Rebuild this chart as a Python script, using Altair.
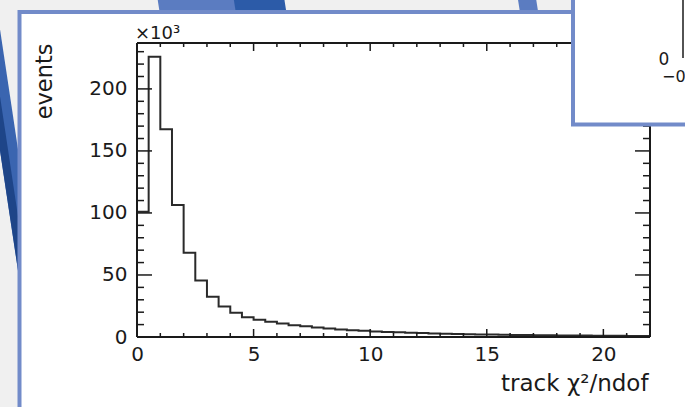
import altair as alt
import numpy as np
import pandas as pd

# ---------------- data ----------------
# histogram of track chi2/ndof, bins of width 0.5 from 0 to 22, counts in units of 10^3
bin_lo = list(np.arange(0.0, 22.0, 0.5))
counts = [101, 226, 167.5, 106.5, 68, 45.5, 32.5, 24.5, 19.5, 16.0,
          14.0, 12.2, 10.8, 9.5, 8.6, 7.6, 6.8, 6.1, 5.5, 5.0,
          4.5, 4.1, 3.8, 3.5, 3.2, 2.9, 2.7, 2.5, 2.3, 2.1,
          2.0, 1.8, 1.7, 1.6, 1.5, 1.4, 1.3, 1.2, 1.15, 1.1,
          1.0, 0.95, 0.9, 0.85]
x_range = [0.0, 22.0]
y_range = [0.0, 237.0]
x_major = [0, 5, 10, 15, 20]
x_minor = [1, 2, 3, 4, 6, 7, 8, 9, 11, 12, 13, 14, 16, 17, 18, 19, 21]
y_major = [0, 50, 100, 150, 200]
y_minor = [10, 20, 30, 40, 60, 70, 80, 90, 110, 120, 130, 140,
           160, 170, 180, 190, 210, 220, 230]

# outline of the histogram (step line)
hx = [x_range[0]] + bin_lo + [x_range[1]]
hy = [0.0] + counts + [counts[-1]]
hist_df = pd.DataFrame({"x": hx, "y": hy, "i": range(len(hx))})

W, H = 513, 294
FONT = "DejaVu Sans"
INK = "#1a1a1a"
BLUE = "#728bc9"

xscale = alt.Scale(domain=x_range, nice=False, zero=False)
yscale = alt.Scale(domain=y_range, nice=False, zero=False)

xaxis = alt.Axis(title="track χ²/ndof", values=x_major, format="d", domain=False,
                 ticks=False, tickSize=0, grid=False, labelFont=FONT, labelFontSize=20,
                 labelColor=INK, labelPadding=7, labelFlush=False, labelOverlap=False,
                 titleFont=FONT, titleFontSize=23, titleFontWeight="normal",
                 titleColor=INK, titleX=511, titleY=53, titleAlign="right",
                 titleBaseline="alphabetic", zindex=1)
yaxis = alt.Axis(title="events", values=y_major, format="d", domain=False,
                 ticks=False, tickSize=0, grid=False, labelFont=FONT, labelFontSize=20,
                 labelColor=INK, labelPadding=10, labelFlush=False, labelOverlap=False,
                 titleFont=FONT, titleFontSize=22.5, titleFontWeight="normal",
                 titleColor=INK, titleAngle=270, titleX=-93, titleY=0,
                 titleAlign="right", titleBaseline="middle", zindex=1)

one = pd.DataFrame({"a": [0]})

# ---------------- slide decoration ----------------
def band(x1, y1, x2, y2, w, color):
    return alt.Chart(one).mark_rule(color=color, strokeWidth=w).encode(
        x=alt.value(x1), y=alt.value(y1), x2=alt.value(x2), y2=alt.value(y2))

# coordinates relative to plot origin (137, 43)
stripes = [
    band(-150.5, -43, -98, 307, 18, "#3a65b0"),
    band(-155.5, -43, -103, 307, 8, "#1e4588"),
    band(55, -70, 72, 40, 76, "#5b7cc1"),
    band(118, -70, 135, 40, 50, "#2c5ba8"),
    band(386, -70, 403, 40, 18, "#5b7cc1"),
]

panel = alt.Chart(one).mark_rect(fill="white", stroke=BLUE, strokeWidth=4).encode(
    x=alt.value(-117.5), x2=alt.value(700), y=alt.value(-31), y2=alt.value(420))

# ---------------- histogram ----------------
hist = alt.Chart(hist_df).mark_line(interpolate="step-after", color="#2a2a2a",
                                    strokeWidth=2).encode(
    x=alt.X("x:Q", scale=xscale, axis=xaxis),
    y=alt.Y("y:Q", scale=yscale, axis=yaxis),
    order=alt.Order("i:Q"))

# ---------------- frame and ticks ----------------
def xticks(vals, y1, y2):
    return alt.Chart(pd.DataFrame({"v": vals})).mark_rule(color=INK, strokeWidth=1.5).encode(
        x=alt.X("v:Q", scale=xscale, axis=xaxis), y=alt.value(y1), y2=alt.value(y2))

def yticks(vals, x1, x2):
    return alt.Chart(pd.DataFrame({"v": vals})).mark_rule(color=INK, strokeWidth=1.5).encode(
        y=alt.Y("v:Q", scale=yscale, axis=yaxis), x=alt.value(x1), x2=alt.value(x2))

ticks = [
    xticks(x_major, H, H - 8), xticks(x_minor, H, H - 4),
    xticks(x_major, 0, 8), xticks(x_minor, 0, 4),
    yticks(y_major, 0, 15), yticks(y_minor, 0, 7),
    yticks(y_major, W, W - 15), yticks(y_minor, W, W - 7),
]

frame = [
    alt.Chart(one).mark_rule(color=INK, strokeWidth=2).encode(
        x=alt.value(0), x2=alt.value(W), y=alt.value(H), y2=alt.value(H)),
    alt.Chart(one).mark_rule(color=INK, strokeWidth=2).encode(
        x=alt.value(0), x2=alt.value(W), y=alt.value(0), y2=alt.value(0)),
    alt.Chart(one).mark_rule(color=INK, strokeWidth=2).encode(
        x=alt.value(0), x2=alt.value(0), y=alt.value(0), y2=alt.value(H)),
    alt.Chart(one).mark_rule(color=INK, strokeWidth=2).encode(
        x=alt.value(W), x2=alt.value(W), y=alt.value(0), y2=alt.value(H)),
]

exponent = alt.Chart(one).mark_text(font=FONT, fontSize=18, color=INK, align="left",
                                    baseline="alphabetic").encode(
    x=alt.value(-2), y=alt.value(-4), text=alt.value("×10³"))

# ---------------- neighbouring inset panel (top right) ----------------
inset = alt.Chart(one).mark_rect(fill="white", stroke=BLUE, strokeWidth=4).encode(
    x=alt.value(436), x2=alt.value(800), y=alt.value(-80), y2=alt.value(81.5))
inset_line = alt.Chart(one).mark_rule(color=INK, strokeWidth=1.5).encode(
    x=alt.value(546), x2=alt.value(546), y=alt.value(-43), y2=alt.value(15))
inset_t1 = alt.Chart(one).mark_text(font=FONT, fontSize=17, color=INK, align="center",
                                    baseline="alphabetic").encode(
    x=alt.value(527), y=alt.value(22), text=alt.value("0"))
inset_t2 = alt.Chart(one).mark_text(font=FONT, fontSize=16, color=INK, align="left",
                                    baseline="alphabetic").encode(
    x=alt.value(525), y=alt.value(39), text=alt.value("−0"))

chart = alt.layer(
    *stripes, panel, hist, *ticks, *frame, exponent,
    inset, inset_line, inset_t1, inset_t2
).properties(
    width=W, height=H,
    autosize=alt.AutoSizeParams(type="none"),
    padding={"left": 137, "top": 43, "right": 35, "bottom": 70},
).configure(background="#f0f0f0").configure_view(stroke="transparent")

chart.save("out.html", embed_options={"renderer": "svg", "actions": False})
